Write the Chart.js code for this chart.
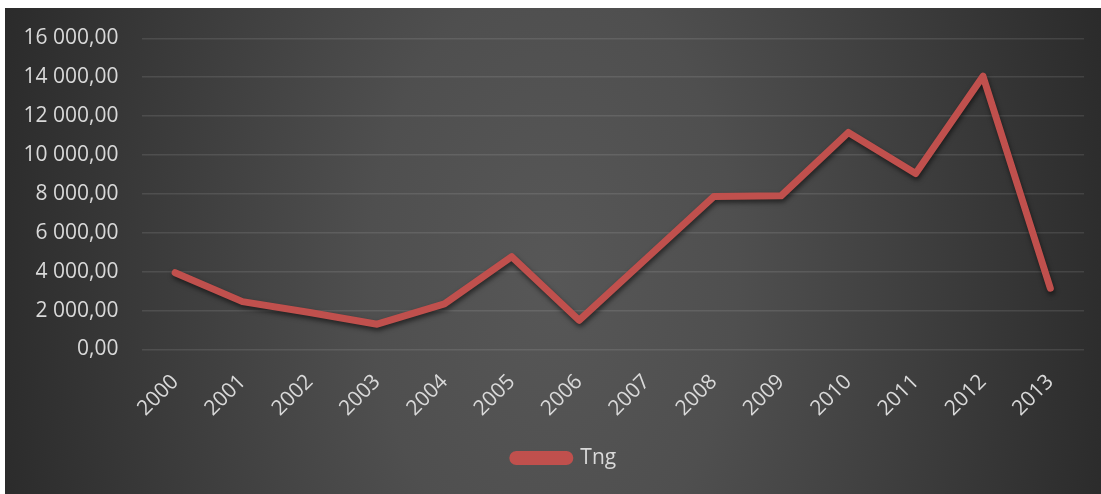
<!DOCTYPE html>
<html>
<head>
<meta charset="utf-8">
<script src="https://cdn.jsdelivr.net/npm/chart.js@4.4.1/dist/chart.umd.min.js"></script>
<style>
  html, body { margin: 0; padding: 0; background: #fff; }
  #wrap { position: absolute; left: 5px; top: 8px; width: 1096px; height: 486px; }
</style>
</head>
<body>
<div id="wrap"><canvas id="chart"></canvas></div>
<script>
// values
const years = ['2000', '2001', '2002', '2003', '2004', '2005', '2006',
               '2007', '2008', '2009', '2010', '2011', '2012', '2013'];
const tngValues = [3950, 2460, 1900, 1300, 2350, 4770, 1500,
                   4680, 7860, 7900, 11160, 9050, 14050, 3150];
const seriesName = 'Tng';
const yMin = 0;
const yMax = 16000;
const yStep = 2000;

// "16 000,00" style labels
function formatNumber(v) {
    const s = Math.round(v).toString().replace(/\B(?=(\d{3})+(?!\d))/g, ' ');
    return s + ',00';
}

// dark backdrop, lighter down the middle, dark at the sides
const backdrop = {
    id: 'backdrop',
    beforeDraw(chart) {
        const { ctx, width, height } = chart;
        const cx = width * 0.5, cy = height * 0.55, sy = 1.6;
        ctx.save();
        ctx.translate(cx, cy);
        ctx.scale(1, sy);
        const g = ctx.createRadialGradient(0, 0, 0, 0, 0, width * 0.56);
        g.addColorStop(0, '#575757');
        g.addColorStop(0.3, '#4f4f4f');
        g.addColorStop(1, '#272727');
        ctx.fillStyle = g;
        ctx.fillRect(-cx, -cy / sy, width, height / sy);
        ctx.restore();
    }
};

// soft shadow under the line
const lineShadow = {
    id: 'lineShadow',
    beforeDatasetDraw(chart) {
        const ctx = chart.ctx;
        ctx.save();
        ctx.shadowColor = 'rgba(0, 0, 0, 0.55)';
        ctx.shadowBlur = 5;
        ctx.shadowOffsetX = 1;
        ctx.shadowOffsetY = 3;
    },
    afterDatasetDraw(chart) {
        chart.ctx.restore();
    }
};

// legend sits a bit right of centre in the original
const legendNudge = {
    id: 'legendNudge',
    afterLayout(chart) {
        if (chart.legend) chart.legend.left += 40;
    }
};

const tickFont = { family: "'Open Sans', sans-serif", size: 21 };
const lineColor = '#c0504d';

new Chart(document.getElementById('chart').getContext('2d'), {
    type: 'line',
    data: {
        labels: years,
        datasets: [{
            label: seriesName,
            data: tngValues,
            borderColor: lineColor,
            backgroundColor: lineColor,
            borderWidth: 7,
            borderJoinStyle: 'round',
            borderCapStyle: 'round',
            pointRadius: 0,
            pointHoverRadius: 0,
            tension: 0,
            fill: false
        }]
    },
    options: {
        responsive: true,
        maintainAspectRatio: false,
        animation: false,
        layout: { padding: { top: 30.3, right: 17, bottom: 15.5, left: 0 } },
        plugins: {
            tooltip: { enabled: false },
            legend: {
                position: 'bottom',
                labels: {
                    color: '#d9d9d9',
                    font: tickFont,
                    boxWidth: 57,
                    boxHeight: 7,
                    useBorderRadius: true,
                    borderRadius: 3.5,
                    padding: 10
                }
            }
        },
        scales: {
            x: {
                offset: true,
                grid: { display: false },
                border: { display: false },
                ticks: {
                    color: '#d9d9d9',
                    font: tickFont,
                    maxRotation: 45,
                    minRotation: 45,
                    padding: 12
                },
                afterFit(scale) {
                    scale.height = 88;
                    scale.paddingLeft = 0;
                    scale.paddingRight = 0;
                }
            },
            y: {
                min: yMin,
                max: yMax,
                border: { display: false },
                grid: {
                    color: 'rgba(255, 255, 255, 0.1)',
                    lineWidth: 1.5,
                    drawTicks: false
                },
                ticks: {
                    stepSize: yStep,
                    color: '#d9d9d9',
                    font: tickFont,
                    padding: 23,
                    callback: v => formatNumber(v)
                },
                afterFit(scale) {
                    scale.width = 136.5;
                    scale.paddingTop = 0;
                    scale.paddingBottom = 0;
                }
            }
        }
    },
    plugins: [backdrop, lineShadow, legendNudge]
});
</script>
</body>
</html>
